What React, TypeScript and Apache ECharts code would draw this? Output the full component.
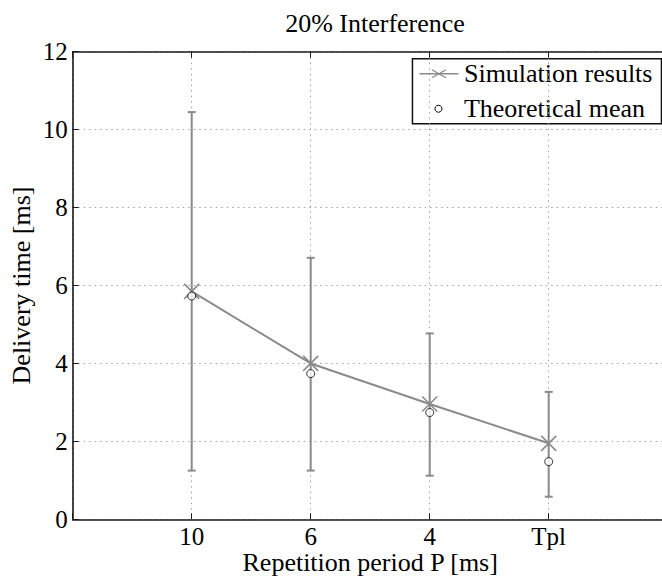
import React, { useEffect, useRef } from "react";
import * as echarts from "echarts";

const categories = ["10", "6", "4", "Tpl"];
const simMean = [5.85, 4.0, 2.96, 1.95];
const errLow = [1.25, 1.25, 1.12, 0.58];
const errHigh = [10.45, 6.71, 4.77, 3.27];
const theoMean = [5.73, 3.74, 2.74, 1.48];

const FONT = "Liberation Serif";
const GRAY = "#8a8a8a";
const DOT = "#a0a0a0";

export default function App() {
  const ref = useRef<HTMLDivElement>(null);
  useEffect(() => {
    if (!ref.current) return;
    const chart = echarts.init(ref.current, null, { renderer: "svg" });
    const pos = categories.map((_, i) => i + 1);
    const option: any = {
      animation: false,
      backgroundColor: "#ffffff",
      textStyle: { fontFamily: FONT },
      title: {
        text: "20% Interference",
        left: 370,
        textAlign: "center",
        top: 5,
        textStyle: { fontFamily: FONT, fontSize: 26, fontWeight: "normal", color: "#000" },
      },
      grid: {
        left: 72.7,
        top: 51.7,
        width: 595,
        height: 467.6,
        containLabel: false,
        outerBoundsMode: "none",
      },
      xAxis: [
        {
          type: "value",
          position: "bottom",
          min: 0,
          max: 5,
          interval: 1,
          name: "Repetition period P [ms]",
          nameLocation: "middle",
          nameGap: 32.5,
          nameMoveOverlap: false,
          nameTextStyle: { fontFamily: FONT, fontSize: 26, color: "#000", lineHeight: 22 },
          axisLine: { show: true, onZero: false, lineStyle: { color: "#1a1a1a", width: 1.6 } },
          axisTick: { show: true, inside: true, length: 6, lineStyle: { color: "#1a1a1a", width: 1 } },
          axisLabel: {
            margin: 6.5,
            fontFamily: FONT,
            fontSize: 25,
            lineHeight: 22,
            color: "#000",
            formatter: (v: number) => (v >= 1 && v <= categories.length ? categories[v - 1] : ""),
          },
          splitLine: { show: true, lineStyle: { color: DOT, type: [1.5, 4], width: 1 } },
        },
        {
          type: "value",
          position: "top",
          min: 0,
          max: 5,
          interval: 1,
          axisLine: { show: true, onZero: false, lineStyle: { color: "#1a1a1a", width: 1.6 } },
          axisTick: { show: true, inside: true, length: 6, lineStyle: { color: "#1a1a1a", width: 1 } },
          axisLabel: { show: false },
          splitLine: { show: false },
        },
      ],
      yAxis: {
        type: "value",
        min: 0,
        max: 12,
        interval: 2,
        name: "Delivery time [ms]",
        nameLocation: "middle",
        nameGap: 38,
        nameMoveOverlap: false,
        nameTextStyle: { fontFamily: FONT, fontSize: 26, color: "#000", lineHeight: 26 },
        axisLine: { show: true, onZero: false, lineStyle: { color: "#1a1a1a", width: 1.6 } },
        axisTick: { show: true, inside: true, length: 6, lineStyle: { color: "#1a1a1a", width: 1 } },
        axisLabel: { margin: 5, fontFamily: FONT, fontSize: 25, color: "#000" },
        splitLine: { show: true, lineStyle: { color: DOT, type: [1.5, 4], width: 1 } },
      },
      graphic: [
        {
          type: "group",
          left: 411.7,
          top: 58,
          z: 100,
          children: [
            { type: "rect", shape: { x: 0, y: 0, width: 249, height: 65 }, style: { fill: "#fff", stroke: "#111", lineWidth: 1.5 } },
            { type: "line", shape: { x1: 7, y1: 15, x2: 46, y2: 15 }, style: { stroke: GRAY, lineWidth: 1.5 } },
            { type: "line", shape: { x1: 19.5, y1: 11, x2: 33.5, y2: 19 }, style: { stroke: GRAY, lineWidth: 1.2 } },
            { type: "line", shape: { x1: 19.5, y1: 19, x2: 33.5, y2: 11 }, style: { stroke: GRAY, lineWidth: 1.2 } },
            { type: "circle", shape: { cx: 26, cy: 50, r: 3.5 }, style: { fill: "#fff", stroke: "#000", lineWidth: 1 } },
            { type: "text", x: 51.5, y: 15, style: { text: "Simulation results", fontFamily: FONT, fontSize: 26, fill: "#000", verticalAlign: "middle", align: "left" } },
            { type: "text", x: 51.5, y: 50, style: { text: "Theoretical mean", fontFamily: FONT, fontSize: 26, fill: "#000", verticalAlign: "middle", align: "left" } },
          ],
        },
      ],
      series: [
        {
          type: "custom",
          name: "Error bars",
          z: 2,
          data: categories.map((_, i) => [pos[i], errLow[i], errHigh[i], simMean[i]]),
          encode: { x: 0, y: [1, 2, 3] },
          renderItem: (params: any, api: any) => {
            const x = api.value(0);
            const lo = api.coord([x, api.value(1)]);
            const hi = api.coord([x, api.value(2)]);
            const m = api.coord([x, api.value(3)]);
            const st = { stroke: GRAY, lineWidth: 2, fill: "none" };
            const cap = 4;
            const xs = 7.5;
            return {
              type: "group",
              children: [
                { type: "line", shape: { x1: lo[0], y1: lo[1], x2: hi[0], y2: hi[1] }, style: st },
                { type: "line", shape: { x1: lo[0] - cap, y1: lo[1], x2: lo[0] + cap, y2: lo[1] }, style: st },
                { type: "line", shape: { x1: hi[0] - cap, y1: hi[1], x2: hi[0] + cap, y2: hi[1] }, style: st },
                { type: "line", shape: { x1: m[0] - xs, y1: m[1] - xs, x2: m[0] + xs, y2: m[1] + xs }, style: { stroke: GRAY, lineWidth: 1.6 } },
                { type: "line", shape: { x1: m[0] - xs, y1: m[1] + xs, x2: m[0] + xs, y2: m[1] - xs }, style: { stroke: GRAY, lineWidth: 1.6 } },
              ],
            };
          },
        },
        {
          type: "line",
          name: "Simulation results",
          z: 3,
          data: categories.map((_, i) => [pos[i], simMean[i]]),
          symbol: "none",
          lineStyle: { color: GRAY, width: 2 },
          itemStyle: { color: GRAY },
        },
        {
          type: "scatter",
          name: "Theoretical mean",
          z: 4,
          data: categories.map((_, i) => [pos[i], theoMean[i]]),
          symbol: "circle",
          symbolSize: 8,
          itemStyle: { color: "#fff", borderColor: "#000", borderWidth: 1 },
        },
      ],
    };
    chart.setOption(option);
    return () => chart.dispose();
  }, []);
  return (
    <div
      ref={ref}
      style={{ position: "fixed", left: 0, top: 0, width: 662, height: 577, background: "#fff" }}
    />
  );
}
